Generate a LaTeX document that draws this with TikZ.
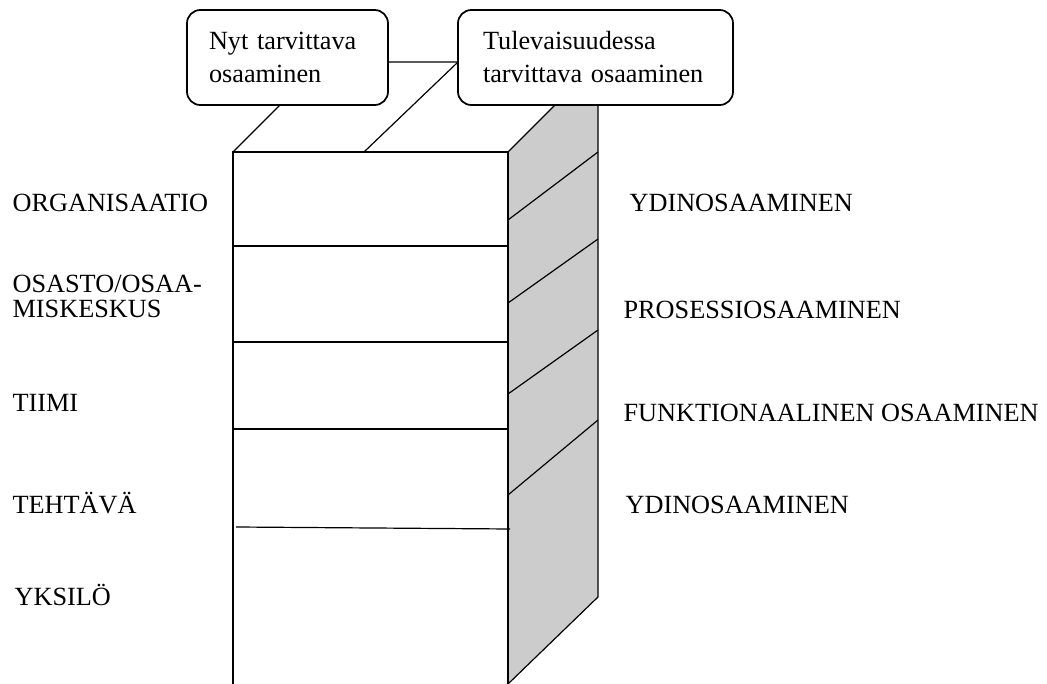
\documentclass[tikz,border=0pt]{standalone}
\usepackage{fontspec}
\setmainfont{Liberation Serif}
\usetikzlibrary{positioning}
\definecolor{sivu}{HTML}{CCCCCC}

\begin{document}
\begin{tikzpicture}[x=0.75pt, y=-0.75pt, line width=0.9pt,
		osabox/.style={
			draw,
			fill=white,
			line width=1.3pt,
			rounded corners=10pt,
			align=left,
			minimum height=71.25pt,
			inner ysep=0pt,
			font=\fontsize{19.7}{24.75}\selectfont,
		},
		taso/.style={anchor=base west, inner sep=0pt, align=left,
			font=\fontsize{19.7}{18.75}\selectfont}]
		\useasboundingbox (0,0) rectangle (1047,684);
		
		\coordinate (fl) at (233,152);
		\coordinate (fr) at (508,152);
		\coordinate (bl) at (233,684);
		\coordinate (br) at (508,684);
		\coordinate (tl) at (323,62);
		\coordinate (tr) at (598,62);
		\coordinate (sb) at (598,597);
		\coordinate (mid) at (364,152);
		
		\fill[sivu] (fr) -- (tr) -- (sb) -- (br) -- cycle;
		\draw (bl) -- (fl) -- (fr) -- (br);
		\draw (fl) -- (tl) -- (tr) -- (sb) -- (br);
		\draw (fr) -- (tr);
		\draw (mid) -- (458,62);
		
		\foreach \ya/\yb in {220/152, 303/239, 394/330, 495/420}
			\draw (508,\ya) -- (598,\yb);
		\foreach \y in {246, 342, 429}
			\draw (233,\y) -- (508,\y);
		\draw (236,527) -- (510,529);
		
		\node[osabox, inner xsep=16.5pt, text width=117.75pt] (nyt) at (287.5,57.5) {Nyt tarvittava\\osaaminen};
		\node[osabox, inner xsep=18.75pt, text width=168.75pt] (tule) at (595.5,57.5) {Tulevaisuudessa\\tarvittava osaaminen};
		
		\node[taso] (org) at (12,212) {ORGANISAATIO};
		\node[taso] (osasto) at (12,318) {OSASTO/OSAA-\\MISKESKUS};
		\node[taso] (tiimi) at (12,412) {TIIMI};
		\node[taso] (tehtava) at (12,513) {TEHTÄVÄ};
		\node[taso] (yksilo) at (14,605) {YKSILÖ};
		
		\node[taso] (ydin) at (629,212) {YDINOSAAMINEN};
		\node[taso] (prosessi) at (623,319) {PROSESSIOSAAMINEN};
		\node[taso] (funktio) at (623,422) {FUNKTIONAALINEN OSAAMINEN};
		\node[taso] (ydin2) at (625,513) {YDINOSAAMINEN};
	\end{tikzpicture}
\end{document}
